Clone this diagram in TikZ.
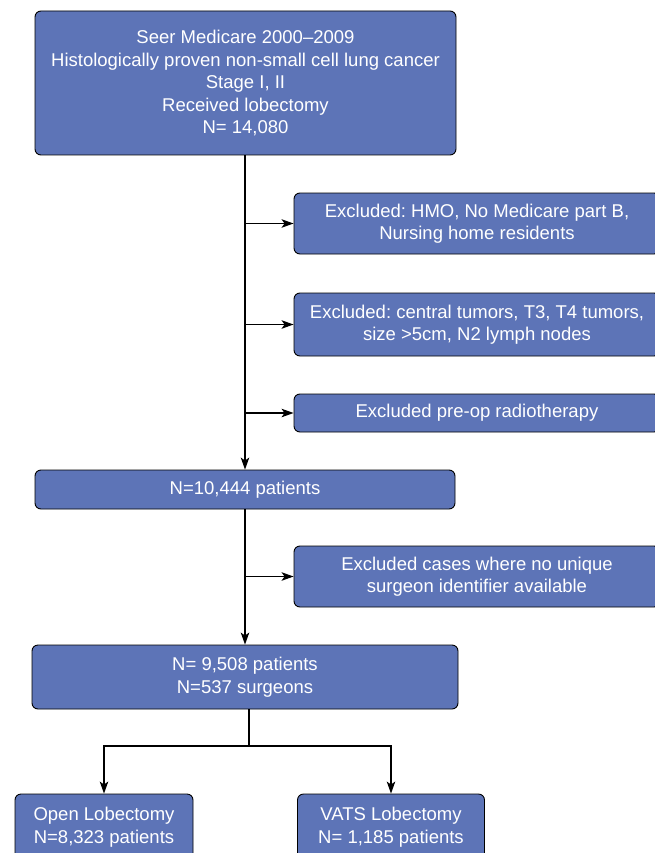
\documentclass[tikz,border=0pt]{standalone}
\usepackage{fontspec}
\setmainfont{Liberation Sans}
\usepackage{tikz}
\usetikzlibrary{positioning,
                arrows.meta}                % arrow tips

\frenchspacing
\definecolor{boxblue}{RGB}{93,116,183}
\tikzset{
  flowbox/.style={draw=black, line width=0.9pt, fill=boxblue, rounded corners=6pt,
                  text=white, align=center, inner sep=0pt,
                  font=\fontsize{18.5}{22.5}\selectfont},
  flowarrow/.style={line width=1.1pt, -{Stealth[length=12pt,width=8.5pt,inset=3pt]}}
}

\begin{document}
\begin{tikzpicture}[x=1pt, y=-1pt]
      \useasboundingbox (0,0) rectangle (655,853);
      \clip (0,0) rectangle (655,853);

      \node[flowbox, minimum width=421pt, minimum height=144pt] (cohort) at (245.5,83)
        {Seer Medicare 2000--2009\\Histologically proven non-small cell lung cancer\\Stage I, II\\Received lobectomy\\N= 14,080};

      \node[flowbox, minimum width=366pt, minimum height=61pt] (exhmo) at (477,223.5)
        {Excluded: HMO, No Medicare part B,\\Nursing home residents};
      \node[flowbox, minimum width=366pt, minimum height=63pt] (extumor) at (477,324.5)
        {Excluded: central tumors, T3, T4 tumors,\\size >5cm, N2 lymph nodes};
      \node[flowbox, minimum width=366pt, minimum height=38pt] (exradio) at (477,413)
        {Excluded pre-op radiotherapy};

      \node[flowbox, minimum width=420pt, minimum height=39pt] (patients) at (245,489.5)
        {N=10,444 patients};

      \node[flowbox, minimum width=366pt, minimum height=61pt] (exsurg) at (477,576.5)
        {Excluded cases where no unique\\surgeon identifier available};

      \node[flowbox, minimum width=426pt, minimum height=64pt] (surgeons) at (245,677)
        {N= 9,508 patients\\N=537 surgeons};

      \node[flowbox, minimum width=178pt, minimum height=66pt] (open) at (104,827)
        {Open Lobectomy\\N=8,323 patients};
      \node[flowbox, minimum width=187pt, minimum height=66pt] (vats) at (391,827)
        {VATS Lobectomy\\N= 1,185 patients};

      % main line and exclusions
      \draw[flowarrow] (cohort.south -| patients.north) -- (patients.north);
      \foreach \ex in {exhmo, extumor, exradio}
      { \draw[flowarrow] (patients.north |- \ex.west) -- (\ex.west);
      }
      \draw[flowarrow] (patients.south) -- (surgeons.north);
      \draw[flowarrow] (patients.south |- exsurg.west) -- (exsurg.west);

      % split into the two groups
      \coordinate (fork) at (249,746);
      \draw[line width=1.1pt] (surgeons.south -| fork) -- (fork);
      \draw[flowarrow] (fork) -| (open.north);
      \draw[flowarrow] (fork) -| (vats.north);

    \end{tikzpicture}
\end{document}
